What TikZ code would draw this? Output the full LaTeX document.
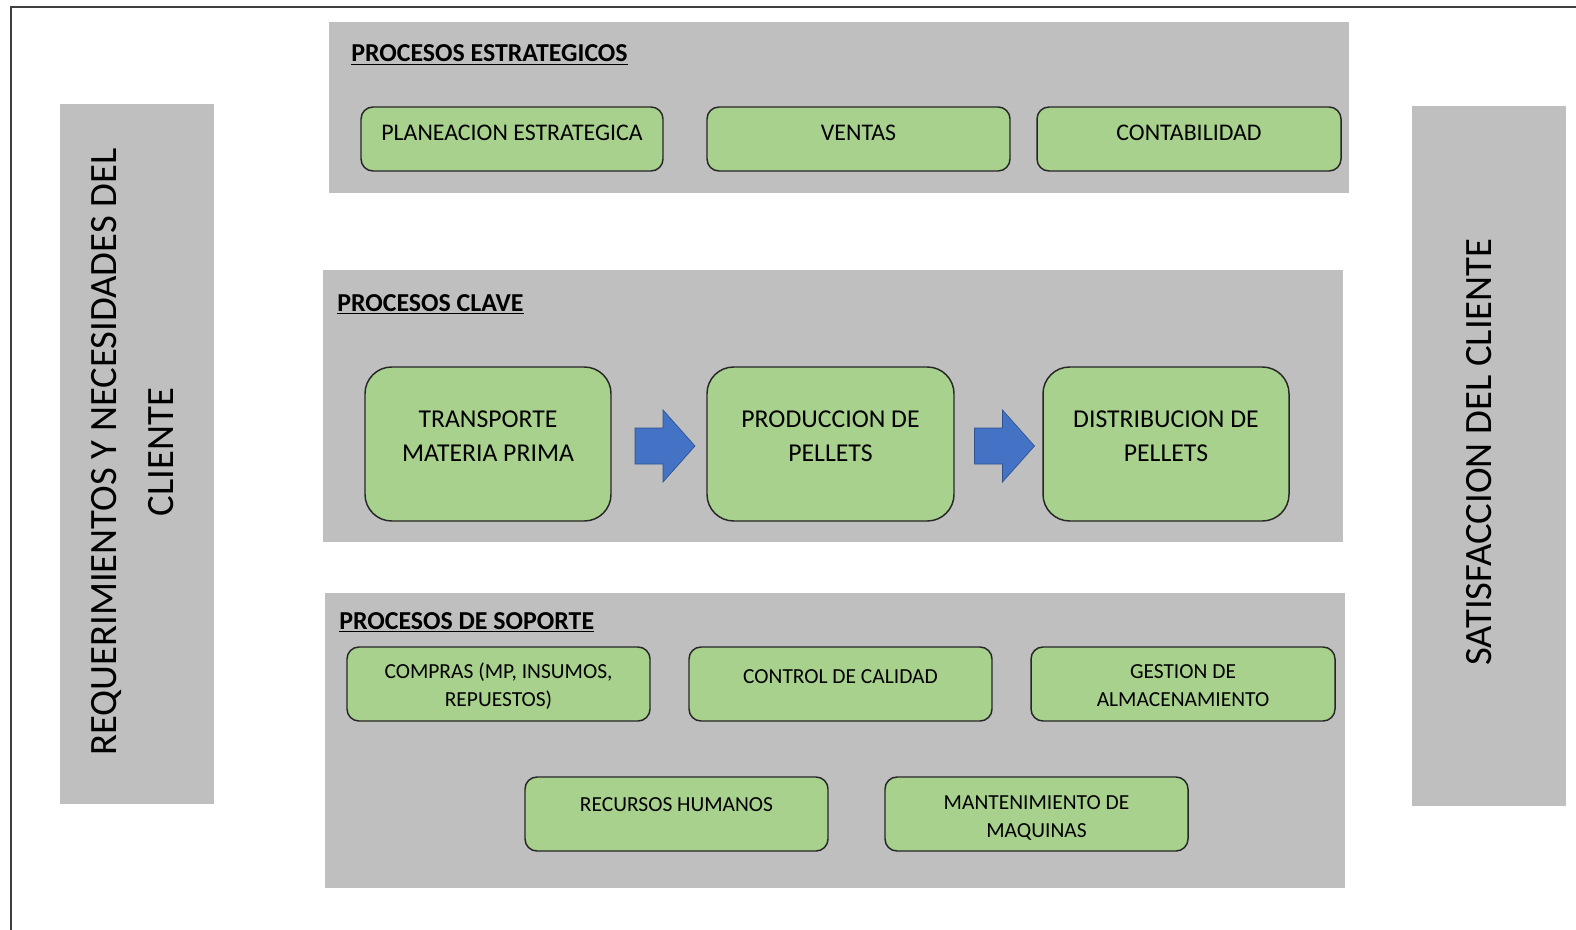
\documentclass[tikz,border=0pt]{standalone}
\usepackage{fontspec}
\setmainfont{Carlito}
\usetikzlibrary{calc,fit}
\definecolor{gbg}{HTML}{BFBFBF}
\definecolor{gfill}{HTML}{A9D18E}
\definecolor{bord}{HTML}{262626}
\definecolor{arr}{HTML}{4472C4}
\definecolor{arrb}{HTML}{2F528F}
\definecolor{frame}{HTML}{404040}
\begin{document}
\begin{tikzpicture}[x=0.75pt,y=-0.75pt,
  panel/.style={fill=gbg,draw=none,inner sep=0pt},
  gbox/.style={draw=bord,fill=gfill,line width=1.1pt,rounded corners=9pt,inner sep=0pt},
  kbox/.style={draw=bord,fill=gfill,line width=1.1pt,rounded corners=20pt,inner sep=0pt},
  title/.style={font=\fontsize{19.4}{22}\selectfont\bfseries,anchor=base west,inner sep=0pt},
  ttext/.style={font=\fontsize{17.9}{22}\selectfont,inner sep=0pt,align=center},
  ktext/.style={font=\fontsize{19.3}{25.5}\selectfont,inner sep=0pt,align=center},
  stext/.style={font=\fontsize{16.1}{21}\selectfont,inner sep=0pt,align=center},
  side/.style={font=\fontsize{29}{42.75}\selectfont,inner sep=0pt,align=center,rotate=90},
  barrow/.style={fill=arr,draw=arrb,line width=0.5pt,line join=miter}
]
\useasboundingbox (0,0) rectangle (1576,930);
\fill[white] (0,0) rectangle (1576,930);
% outer frame (top and left edges)
\coordinate (ftr) at (1576,7);
\coordinate (ftl) at (11,7);
\coordinate (fbl) at (11,930);
\draw[frame,line width=1.6pt] (ftr) -- (ftl) -- (fbl);

% side panels
\node[panel,fit={(60,104) (214,804)}] (lp) {};
\node[panel,fit={(1412,106) (1566,806)}] (rp) {};
\node[side] (lpt) at (133,452) {REQUERIMIENTOS Y NECESIDADES DEL\\CLIENTE};
\node[side] (rpt) at (1479,452) {SATISFACCION DEL CLIENTE};

% strategic
\node[panel,fit={(329,22) (1349,193)}] (sp) {};
\node[title] (spt) at (351,62) {\underline{PROCESOS ESTRATEGICOS}};
\node[gbox,fit={(361,107) (663,171)}] (pe) {};
\node[gbox,fit={(707,107) (1010,171)}] (ve) {};
\node[gbox,fit={(1037,107) (1341,171)}] (co) {};
\node[ttext] (pet) at ($(pe.center)+(0,-6)$) {PLANEACION ESTRATEGICA};
\node[ttext] (vet) at ($(ve.center)+(0,-6)$) {VENTAS};
\node[ttext] (cot) at ($(co.center)+(0,-6)$) {CONTABILIDAD};

% key
\node[panel,fit={(323,270) (1343,542)}] (kp) {};
\node[title] (kpt) at (337,311) {\underline{PROCESOS CLAVE}};
\node[kbox,fit={(365,367) (611,521)}] (tr) {};
\node[kbox,fit={(707,367) (954,521)}] (pr) {};
\node[kbox,fit={(1043,367) (1289,521)}] (di) {};
\node[ktext] (trt) at ($(tr.center)+(0,-8)$) {TRANSPORTE\\MATERIA PRIMA};
\node[ktext] (prt) at ($(pr.center)+(0,-8)$) {PRODUCCION DE\\PELLETS};
\node[ktext] (dit) at ($(di.center)+(0,-8)$) {DISTRIBUCION DE\\PELLETS};
\coordinate (m1) at ($(tr.east)!0.5!(pr.west)$);
\coordinate (m2) at ($(pr.east)!0.5!(di.west)$);
\foreach \m in {m1,m2}{
  \draw[barrow] ($(\m)+(-24,-16)$) -- ($(\m)+(4,-16)$) -- ($(\m)+(4,-34)$) -- ($(\m)+(36,2)$)
    -- ($(\m)+(4,38)$) -- ($(\m)+(4,20)$) -- ($(\m)+(-24,20)$) -- cycle;
}

% support
\node[panel,fit={(325,593) (1345,888)}] (sop) {};
\node[title] (sopt) at (339,629) {\underline{PROCESOS DE SOPORTE}};
\node[gbox,fit={(347,647) (650,721)}] (cm) {};
\node[gbox,fit={(689,647) (992,721)}] (cc) {};
\node[gbox,fit={(1031,647) (1335,721)}] (ga) {};
\node[gbox,fit={(525,777) (828,851)}] (rh) {};
\node[gbox,fit={(885,777) (1188,851)}] (mm) {};
\node[stext] (cmt) at ($(cm.center)+(0,2)$) {COMPRAS (MP, INSUMOS,\\REPUESTOS)};
\node[stext] (cct) at ($(cc.center)+(0,-7)$) {CONTROL DE CALIDAD};
\node[stext] (gat) at ($(ga.center)+(0,2)$) {GESTION DE\\ALMACENAMIENTO};
\node[stext] (rht) at ($(rh.center)+(0,-9)$) {RECURSOS HUMANOS};
\node[stext] (mmt) at ($(mm.center)+(0,4)$) {MANTENIMIENTO DE\\MAQUINAS};
\end{tikzpicture}
\end{document}
